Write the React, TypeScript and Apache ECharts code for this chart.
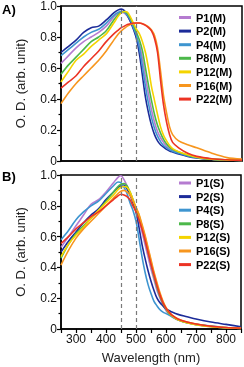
import React, { useEffect, useRef } from "react";
import * as echarts from "echarts";

const wavelengths = [250, 275, 300, 325, 350, 375, 400, 425, 440, 450, 460, 470, 480, 490, 500, 510, 520, 530, 540, 550, 560, 570, 580, 590, 600, 610, 620, 640, 670, 700, 750, 800, 850];

const namesM = ["P1(M)", "P2(M)", "P4(M)", "P8(M)", "P12(M)", "P16(M)", "P22(M)"];
const namesS = ["P1(S)", "P2(S)", "P4(S)", "P8(S)", "P12(S)", "P16(S)", "P22(S)"];
const colors = ["#b57bd0", "#1c2b99", "#3e95d0", "#4cb84a", "#f4d400", "#f7961e", "#ec3324"];

const p1M = [0.63, 0.68, 0.73, 0.77, 0.80, 0.83, 0.87, 0.93, 0.955, 0.96, 0.955, 0.935, 0.90, 0.86, 0.80, 0.75, 0.66, 0.54, 0.43, 0.33, 0.25, 0.19, 0.15, 0.12, 0.095, 0.08, 0.07, 0.055, 0.036, 0.024, 0.012, 0.007, 0.004];
const p2M = [0.70, 0.74, 0.78, 0.83, 0.86, 0.87, 0.91, 0.955, 0.975, 0.98, 0.97, 0.94, 0.90, 0.85, 0.79, 0.69, 0.55, 0.41, 0.31, 0.23, 0.17, 0.13, 0.105, 0.09, 0.075, 0.065, 0.058, 0.045, 0.03, 0.02, 0.01, 0.006, 0.004];
const p4M = [0.68, 0.72, 0.76, 0.80, 0.83, 0.85, 0.89, 0.94, 0.96, 0.965, 0.96, 0.94, 0.91, 0.86, 0.81, 0.73, 0.61, 0.48, 0.37, 0.28, 0.21, 0.16, 0.125, 0.10, 0.085, 0.072, 0.063, 0.05, 0.033, 0.022, 0.011, 0.006, 0.004];
const p8M = [0.56, 0.62, 0.67, 0.72, 0.77, 0.80, 0.84, 0.91, 0.945, 0.96, 0.965, 0.95, 0.92, 0.88, 0.83, 0.78, 0.71, 0.60, 0.49, 0.39, 0.30, 0.23, 0.18, 0.14, 0.11, 0.09, 0.075, 0.058, 0.038, 0.025, 0.012, 0.007, 0.004];
const p12M = [0.51, 0.58, 0.65, 0.69, 0.74, 0.78, 0.82, 0.89, 0.935, 0.955, 0.965, 0.96, 0.93, 0.89, 0.85, 0.82, 0.77, 0.70, 0.60, 0.48, 0.39, 0.30, 0.22, 0.165, 0.13, 0.10, 0.08, 0.06, 0.04, 0.025, 0.012, 0.007, 0.004];
const p16M = [0.37, 0.44, 0.50, 0.55, 0.60, 0.65, 0.71, 0.78, 0.82, 0.84, 0.855, 0.87, 0.88, 0.885, 0.89, 0.89, 0.885, 0.878, 0.865, 0.845, 0.81, 0.73, 0.58, 0.42, 0.31, 0.22, 0.17, 0.13, 0.105, 0.085, 0.05, 0.022, 0.012];
const p22M = [0.47, 0.51, 0.55, 0.61, 0.66, 0.71, 0.77, 0.82, 0.845, 0.86, 0.87, 0.88, 0.885, 0.89, 0.89, 0.89, 0.885, 0.875, 0.86, 0.84, 0.79, 0.70, 0.52, 0.36, 0.25, 0.17, 0.12, 0.085, 0.05, 0.03, 0.015, 0.008, 0.004];

const p1S = [0.53, 0.60, 0.67, 0.74, 0.81, 0.84, 0.89, 0.95, 0.985, 0.995, 0.97, 0.93, 0.88, 0.83, 0.78, 0.71, 0.63, 0.55, 0.47, 0.39, 0.32, 0.25, 0.20, 0.155, 0.12, 0.095, 0.08, 0.058, 0.04, 0.028, 0.015, 0.008, 0.004];
const p2S = [0.50, 0.57, 0.63, 0.69, 0.74, 0.78, 0.84, 0.89, 0.92, 0.93, 0.935, 0.91, 0.87, 0.82, 0.76, 0.66, 0.55, 0.46, 0.38, 0.31, 0.25, 0.20, 0.17, 0.15, 0.13, 0.12, 0.11, 0.095, 0.08, 0.065, 0.045, 0.03, 0.015];
const p4S = [0.58, 0.64, 0.71, 0.76, 0.80, 0.83, 0.88, 0.93, 0.955, 0.95, 0.92, 0.88, 0.82, 0.77, 0.70, 0.59, 0.47, 0.37, 0.29, 0.23, 0.18, 0.15, 0.125, 0.11, 0.10, 0.09, 0.08, 0.06, 0.04, 0.03, 0.02, 0.01, 0.005];
const p8S = [0.46, 0.55, 0.62, 0.67, 0.72, 0.77, 0.83, 0.89, 0.925, 0.94, 0.945, 0.93, 0.89, 0.84, 0.78, 0.73, 0.66, 0.58, 0.50, 0.42, 0.34, 0.27, 0.21, 0.165, 0.13, 0.10, 0.085, 0.06, 0.04, 0.03, 0.016, 0.008, 0.004];
const p12S = [0.47, 0.55, 0.61, 0.66, 0.72, 0.77, 0.82, 0.87, 0.905, 0.92, 0.925, 0.92, 0.89, 0.84, 0.79, 0.74, 0.67, 0.60, 0.52, 0.44, 0.36, 0.29, 0.225, 0.175, 0.135, 0.105, 0.085, 0.06, 0.04, 0.028, 0.015, 0.008, 0.004];
const p16S = [0.415, 0.51, 0.59, 0.65, 0.70, 0.75, 0.80, 0.85, 0.88, 0.895, 0.90, 0.89, 0.87, 0.83, 0.79, 0.745, 0.68, 0.61, 0.53, 0.45, 0.37, 0.30, 0.235, 0.18, 0.14, 0.11, 0.09, 0.065, 0.045, 0.032, 0.018, 0.01, 0.005];
const p22S = [0.555, 0.60, 0.65, 0.69, 0.73, 0.76, 0.80, 0.84, 0.865, 0.875, 0.87, 0.86, 0.84, 0.80, 0.76, 0.71, 0.65, 0.58, 0.50, 0.42, 0.35, 0.28, 0.22, 0.17, 0.135, 0.11, 0.09, 0.065, 0.045, 0.032, 0.018, 0.01, 0.005];

const seriesM = [p1M, p2M, p4M, p8M, p12M, p16M, p22M];
const seriesS = [p1S, p2S, p4S, p8S, p12S, p16S, p22S];

const yTicks = [0, 0.2, 0.4, 0.6, 0.8, 1.0];
const xTickLabels = [300, 400, 500, 600, 700, 800];
const guideLines = [450, 500];

const FONT = "Liberation Sans, Arial, sans-serif";

export default function App() {
  const ref = useRef<HTMLDivElement>(null);

  useEffect(() => {
    if (!ref.current) return;
    const chart = echarts.init(ref.current, null, { renderer: "svg" });

    const yAxisCommon = (gridIndex: number) => ({
      type: "value",
      gridIndex,
      min: yTicks[0],
      max: yTicks[yTicks.length - 1],
      interval: 0.2,
      name: "O. D. (arb. unit)",
      nameLocation: "middle",
      nameGap: 34,
      nameTextStyle: { fontSize: 13, color: "#222", fontFamily: FONT },
      axisLine: { show: true, lineStyle: { color: "#000", width: 1.5 } },
      axisTick: { show: true, inside: false, length: 4, lineStyle: { color: "#000", width: 1.2 } },
      minorTick: { show: true, splitNumber: 2, length: 2.5, lineStyle: { color: "#000", width: 1.2 } },
      splitLine: { show: false },
      axisLabel: {
        fontSize: 12,
        color: "#111",
        fontFamily: FONT,
        margin: 4,
        formatter: (v: number) => (v === 0 ? "0" : v.toFixed(1)),
      },
    });

    const makeSeries = (names: string[], data: number[][], idx: number) => {
      const guide = {
        type: "line",
        name: "guide" + idx,
        xAxisIndex: idx,
        yAxisIndex: idx,
        data: [],
        silent: true,
        markLine: {
          silent: true,
          symbol: "none",
          label: { show: false },
          lineStyle: { color: "#7a7a7a", type: [4, 3], width: 1.2 },
          data: guideLines.map((g) => ({ xAxis: g })),
        },
      };
      const lines = names.map((n, i) => ({
        type: "line",
        name: n,
        xAxisIndex: idx,
        yAxisIndex: idx,
        showSymbol: false,
        symbol: "none",
        smooth: 0.3,
        color: colors[i],
        lineStyle: { width: 1.6, color: colors[i] },
        data: wavelengths.map((w, k) => [w, data[i][k]]),
      }));
      return [guide, ...lines];
    };

    const legendCommon = {
      orient: "vertical",
      left: 179,
      padding: 0,
      itemWidth: 12,
      itemHeight: 3,
      itemGap: 1.6,
      icon: "rect",
      textStyle: { fontSize: 11, fontWeight: "bold", color: "#000", fontFamily: FONT, lineHeight: 12 },
    };

    chart.setOption({
      animation: false,
      textStyle: { fontFamily: FONT },
      grid: [
        { left: 61, top: 6, width: 181, height: 155, show: true, borderColor: "#000", borderWidth: 1.5, backgroundColor: "transparent" },
        { left: 61, top: 175, width: 181, height: 154, show: true, borderColor: "#000", borderWidth: 1.5, backgroundColor: "transparent" },
      ],
      xAxis: [
        {
          type: "value",
          gridIndex: 0,
          min: 250,
          max: 850,
          interval: 50,
          axisLine: { show: true, lineStyle: { color: "#000", width: 1.5 } },
          axisTick: { show: false },
          axisLabel: { show: false },
          splitLine: { show: false },
        },
        {
          type: "value",
          gridIndex: 1,
          min: 250,
          max: 850,
          interval: 50,
          name: "Wavelength (nm)",
          nameLocation: "middle",
          nameGap: 22,
          nameTextStyle: { fontSize: 13, color: "#222", fontFamily: FONT },
          axisLine: { show: true, lineStyle: { color: "#000", width: 1.5 } },
          axisTick: { show: true, length: 4, lineStyle: { color: "#000", width: 1.2 } },
          axisLabel: {
            fontSize: 12,
            color: "#111",
            fontFamily: FONT,
            margin: 4,
            formatter: (v: number) => (xTickLabels.includes(v) ? String(v) : ""),
          },
          splitLine: { show: false },
        },
      ],
      yAxis: [yAxisCommon(0), yAxisCommon(1)],
      legend: [
        { ...legendCommon, top: 11.5, data: namesM },
        { ...legendCommon, top: 177, data: namesS },
      ],
      graphic: [
        { type: "text", left: 2, top: 3, style: { text: "A)", font: "bold 13px " + FONT, fill: "#000" } },
        { type: "text", left: 2, top: 170, style: { text: "B)", font: "bold 13px " + FONT, fill: "#000" } },
      ],
      series: [...makeSeries(namesM, seriesM, 0), ...makeSeries(namesS, seriesS, 1)],
    });

    return () => chart.dispose();
  }, []);

  return <div ref={ref} style={{ position: "fixed", left: 0, top: 0, width: 244, height: 367 }} />;
}
